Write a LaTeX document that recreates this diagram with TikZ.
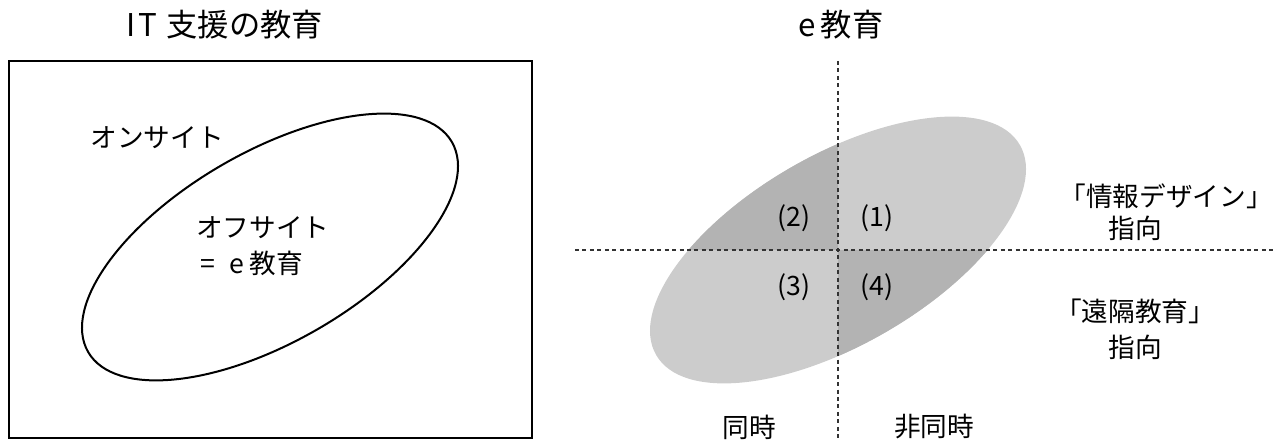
\documentclass[tikz,border=0pt]{standalone}
\usepackage{fontspec}
\setmainfont{Noto Sans CJK JP}
\definecolor{lightg}{HTML}{CCCCCC}
\definecolor{darkg}{HTML}{B3B3B3}
\definecolor{dashc}{HTML}{333333}
\begin{document}
\begin{tikzpicture}[x=0.75pt,y=0.75pt,
  lbl/.style={font=\fontsize{20}{24}\selectfont, inner sep=0pt},
  ttl/.style={font=\fontsize{23.5}{28}\selectfont, inner sep=0pt},
  frame/.style={draw=black, line width=1.5pt},
  guide/.style={draw=dashc, line width=0.8pt, dash pattern=on 3pt off 2.6pt}]
\useasboundingbox (0,0) rectangle (1277,441);
% ---- left panel
\node[ttl] (t1) at (225,416) {I\hspace{0.08em}T\hspace{0.3em}支援の教育};
\node[frame, minimum width=523*0.75pt, minimum height=377*0.75pt, inner sep=0pt, anchor=south west] (box) at (8,2) {};
\draw[line width=1.5pt] (270,194) ellipse[x radius=210, y radius=95, rotate=30];
\node[lbl] (on) at (157,303) {オンサイト};
\node[lbl, anchor=west] (off) at (196,213) {オフサイト};
\node[lbl, anchor=west] (eq) at (200,178) {=\hspace{0.55em}e\hspace{0.2em}教育};
% ---- right panel
\node[ttl] (t2) at (841,416) {e\hspace{0.15em}教育};
\fill[lightg] (838,191) ellipse[x radius=210, y radius=95, rotate=30];
\begin{scope}
  \clip (838,191) ellipse[x radius=210, y radius=95, rotate=30];
  \fill[darkg] (600,191) rectangle (838,400);
  \fill[darkg] (838,191) rectangle (1100,0);
\end{scope}
\coordinate (vt) at (838,380);
\coordinate (vb) at (838,0);
\coordinate (hl) at (575,191);
\coordinate (hr) at (1277,191);
\draw[guide] (vt) -- (vb);
\draw[guide] (hl) -- (hr);
\node[lbl] (q2) at (794,223) {(2)};
\node[lbl] (q1) at (877,223) {(1)};
\node[lbl] (q3) at (794,154) {(3)};
\node[lbl] (q4) at (877,154) {(4)};
\node[lbl] (info) at (1166,245) {「情報デザイン」};
\node[lbl] (info2) at (1135,213) {指向};
\node[lbl] (dist) at (1135,130) {「遠隔教育」};
\node[lbl] (dist2) at (1135,94) {指向};
\node[lbl] (sync) at (749,14) {同時};
\node[lbl] (async) at (934,14) {非同時};
\end{tikzpicture}
\end{document}
